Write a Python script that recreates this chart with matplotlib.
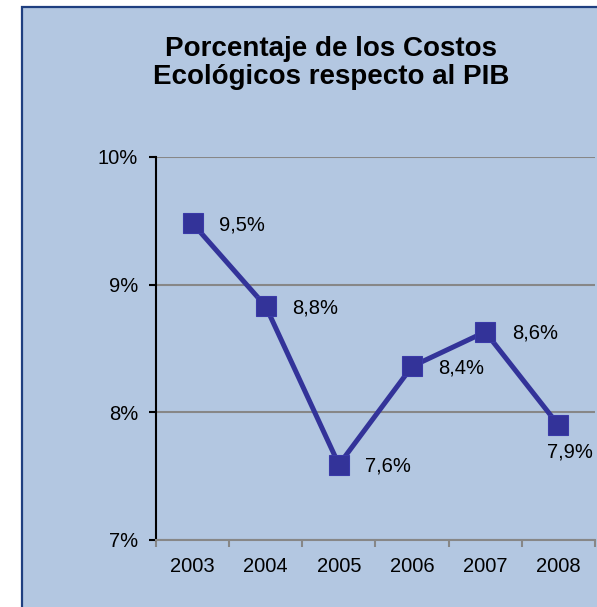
import matplotlib
matplotlib.use("Agg")
import matplotlib.pyplot as plt
from matplotlib.patches import Rectangle
from matplotlib.ticker import FixedLocator, FuncFormatter

years = ["2003", "2004", "2005", "2006", "2007", "2008"]
values = [9.48, 8.83, 7.59, 8.36, 8.63, 7.90]
y_ticks = [7, 8, 9, 10]
title = "Porcentaje de los Costos\nEcológicos respecto al PIB"

W, H = 597, 607
fig = plt.figure(figsize=(W / 100, H / 100), dpi=100)
fig.patch.set_facecolor("white")
plt.rcParams["font.family"] = ["Liberation Sans", "DejaVu Sans"]

bg = "#B3C7E1"
px = lambda x: x / W
py = lambda y: 1 - y / H
fig.patches.append(Rectangle((px(22), py(640)), px(700), py(7) - py(640),
                             transform=fig.transFigure, facecolor=bg,
                             edgecolor="#1F3F80", linewidth=1.6, zorder=-5))

ax = fig.add_axes([px(156), py(540), px(595) - px(156), py(157) - py(540)])
ax.set_facecolor("none")
x = list(range(len(years)))
ax.plot(x, values, color="#333399", linewidth=3.6, marker="s", markersize=14.4,
        markerfacecolor="#333399", markeredgecolor="#3A3AA8", markeredgewidth=0.8,
        zorder=3, clip_on=False)

ax.set_xlim(-0.5, len(years) - 0.5)
ax.set_ylim(y_ticks[0], y_ticks[-1])
ax.set_yticks(y_ticks)
ax.yaxis.set_major_formatter(FuncFormatter(lambda v, p: f"{int(v)}%"))
ax.set_xticks(x)
ax.set_xticklabels(years)
ax.xaxis.set_minor_locator(FixedLocator([i - 0.5 for i in range(len(years) + 1)]))
ax.tick_params(axis="x", which="major", length=0, pad=12.5, labelsize=14.5, colors="black")
ax.tick_params(axis="x", which="minor", length=5, width=1.5, color="#878787")
ax.tick_params(axis="y", length=5, width=1.5, color="black", pad=8, labelsize=14.5)

ax.grid(axis="y", color="#878787", linewidth=1.5, zorder=1)
ax.set_axisbelow(True)
for s in ["top", "right"]:
    ax.spines[s].set_visible(False)
ax.spines["left"].set_color("black")
ax.spines["left"].set_linewidth(1.5)
ax.spines["left"].set_zorder(2)
ax.spines["bottom"].set_color("#878787")
ax.spines["bottom"].set_linewidth(1.5)

for i, v in enumerate(values):
    lab = f"{v:.1f}".replace(".", ",") + "%"
    if i == len(values) - 1:
        ax.annotate(lab, (i, v), xytext=(8, -19.5), textcoords="offset points",
                    ha="center", va="center", fontsize=14.5)
    else:
        ax.annotate(lab, (i, v), xytext=(19, -1), textcoords="offset points",
                    ha="left", va="center", fontsize=14.5)

fig.text(px(331), py(63), title, ha="center", va="center", fontsize=20,
         fontweight="bold", linespacing=1.13)

fig.savefig("out.png", dpi=100)
